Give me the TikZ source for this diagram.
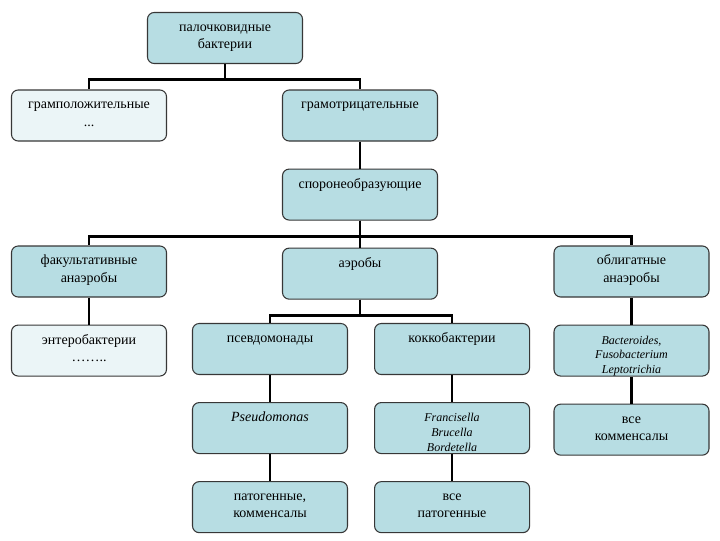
\documentclass[tikz,border=0pt]{standalone}
\usepackage{fontspec}
\setmainfont{Liberation Serif}
\usetikzlibrary{positioning}
\definecolor{boxteal}{RGB}{183,221,227}
\definecolor{boxpale}{RGB}{235,245,247}
\definecolor{boxline}{RGB}{55,55,55}
\newcommand{\celltext}[1]{\parbox[c][28pt][t]{110pt}{\centering\strut #1\par}}
\newcommand{\genus}[1]{\fontsize{9}{11.2}\selectfont\itshape #1\par}

\begin{document}
\begin{tikzpicture}[x=0.75pt,y=-0.75pt,font=\rmfamily\fontsize{10.5}{13}\selectfont,
          node distance=20.25pt and 19.5pt,
          b/.style={draw=boxline,line width=0.8pt,fill=boxteal,rounded corners=5pt,inner sep=0pt,minimum width=116.25pt,minimum height=38.25pt},
          pale/.style={b,fill=boxpale},
          link/.style={line width=2pt}]
        \useasboundingbox (0,0) rectangle (720,540);
        % top levels
        \node[b] (root) at (225,38) {\celltext{палочковидные\\бактерии}};
        \node[pale] (gpos) at (89,115.5) {\celltext{грамположительные\\...}};
        \node[b] (gneg) at (360,115.5) {\celltext{грамотрицательные}};
        \node[b,below=of gneg] (spor) {\celltext{спорoнеобразующие}};
        % respiration types
        \node[b,below=of spor] (aer) {\celltext{аэробы}};
        \node[b] (fak) at (89,271.5) {\celltext{факультативные\\анаэробы}};
        \node[b] (obl) at (631.5,271.5) {\celltext{облигатные\\анаэробы}};
        % groups
        \node[pale,below=of fak] (ent) {\celltext{энтеробактерии\\……..}};
        \node[b] (psev) at (270,349) {\celltext{псевдомонады}};
        \node[b,right=of psev] (kokk) {\celltext{коккобактерии}};
        \node[b,below=of obl] (bact) {\celltext{\genus{Bacteroides,\\Fusobacterium\\Leptotrichia}}};
        % genera
        \node[b,below=of psev] (pseu) {\celltext{\itshape Pseudomonas}};
        \node[b,below=of kokk] (fran) {\celltext{\genus{Francisella\\Brucella\\Bordetella}}};
        \node[b,below=of bact] (komm) {\celltext{все\\комменсалы}};
        \node[b,below=of pseu] (patk) {\celltext{патогенные,\\комменсалы}};
        \node[b,below=of fran] (patv) {\celltext{все\\патогенные}};
        % connectors
        \draw[link] (root.south) -- ++(0,15.5) -| (gpos.north);
        \draw[link] (root.south) -- ++(0,15.5) -| (gneg.north);
        \draw[link] (gneg) -- (spor);
        \draw[link] (spor.south) -- ++(0,16) -| (fak.north);
        \draw[link] (spor.south) -- ++(0,16) -| (obl.north);
        \draw[link] (spor) -- (aer);
        \draw[link] (aer.south) -- ++(0,16) -| (psev.north);
        \draw[link] (aer.south) -- ++(0,16) -| (kokk.north);
        \draw[link] (fak) -- (ent);
        \draw[link] (obl) -- (bact);
        \draw[link] (bact) -- (komm);
        \draw[link] (psev) -- (pseu);
        \draw[link] (pseu) -- (patk);
        \draw[link] (kokk) -- (fran);
        \draw[link] (fran) -- (patv);
      \end{tikzpicture}
\end{document}
